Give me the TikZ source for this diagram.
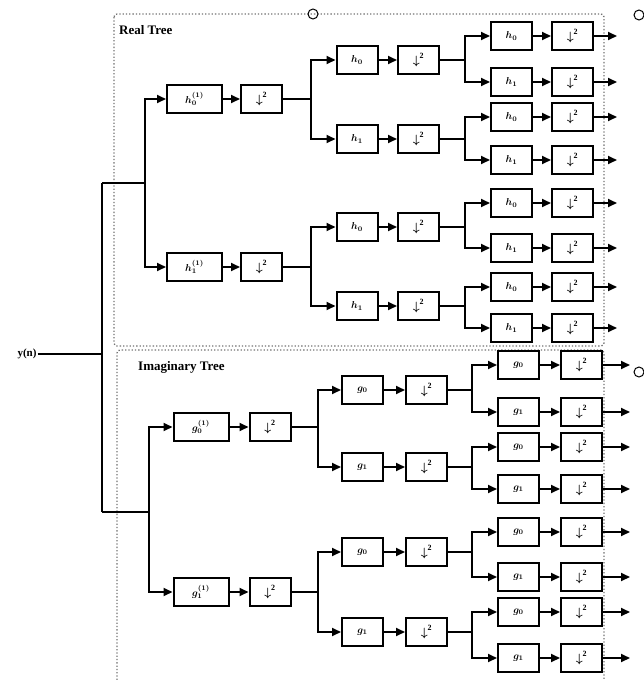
\documentclass[tikz,border=0pt]{standalone}
\usepackage{amsmath}
\usepackage{fontspec}
\setmainfont{Liberation Serif}
\usetikzlibrary{arrows.meta}
\newcommand\dsl{$\boldsymbol{\downarrow}^{\mathbf 2}$}
\begin{document}
\begin{tikzpicture}[x=1pt,y=-1pt,
  blk/.style={draw,line width=2pt,minimum height=28pt,minimum width=41pt,inner sep=0pt,font=\normalsize},
  wblk/.style={blk,minimum width=55pt},
  dblk/.style={blk,font=\large},
  wire/.style={line width=1.8pt},
  arr/.style={wire,-{Triangle[length=9pt,width=8pt]}},
  frame/.style={draw=black!55,dotted,line width=1.3pt,rounded corners=3pt},
  port/.style={circle,draw,line width=1pt,minimum size=10pt,inner sep=0pt},
  title/.style={font=\fontsize{13}{15}\selectfont\bfseries,anchor=west,inner sep=0pt}]
\useasboundingbox (0,0) rectangle (643,680);

% frames
\draw[frame] (114,14) rectangle (604,346);
\draw[frame] (117,680) -- (117,350) -- (604,350) -- (604,680);
\node[title] (rt) at (119,30) {Real Tree};
\node[title] (it) at (138,367) {Imaginary Tree};
\node[port] (p1) at (313,14) {};
\node[port] (p2) at (639,15) {};
\node[port] (p3) at (639,372) {};

% input and trunk
\node[font=\fontsize{11}{13}\selectfont\bfseries,inner sep=1pt] (yn) at (27,354) {y(n)};
\coordinate (tj) at (102,354);
\coordinate (ttop) at (102,183);
\coordinate (tbot) at (102,512);
\coordinate (rv) at (145,183);
\coordinate (iv) at (149,512);
\draw[wire] (yn) -- (tj);
\draw[wire] (ttop) -- (tbot);
\draw[wire] (ttop) -- (rv);
\draw[wire] (tbot) -- (iv);

% ===== Real tree =====
\foreach \n/\y/\l in {r0/99/{h_0^{(1)}}, r1/267/{h_1^{(1)}}}{
  \node[wblk] (\n-f) at (194.5,\y) {$\boldsymbol{\l}$};
  \node[dblk] (\n-d) at (261.5,\y) {\dsl};
  \coordinate (\n-s) at (311,\y);
  \draw[arr] (rv) |- (\n-f.west);
  \draw[arr] (\n-f) -- (\n-d);
  \draw[wire] (\n-d) -- (\n-s);
}
\foreach \n/\y/\p/\i in {r00/60/r0/0, r01/139/r0/1, r10/227/r1/0, r11/306/r1/1}{
  \node[blk] (\n-f) at (357,\y) {$\boldsymbol{h_\i}$};
  \node[dblk] (\n-d) at (418.5,\y) {\dsl};
  \coordinate (\n-s) at (465,\y);
  \draw[arr] (\p-s) |- (\n-f.west);
  \draw[arr] (\n-f) -- (\n-d);
  \draw[wire] (\n-d) -- (\n-s);
}
\foreach \n/\y/\p/\i in {r000/36/r00/0, r001/82/r00/1, r010/117/r01/0, r011/160/r01/1,
                         r100/203/r10/0, r101/248/r10/1, r110/287/r11/0, r111/328/r11/1}{
  \node[blk] (\n-f) at (511.5,\y) {$\boldsymbol{h_\i}$};
  \node[dblk] (\n-d) at (572.5,\y) {\dsl};
  \coordinate (\n-o) at (617,\y);
  \draw[arr] (\p-s) |- (\n-f.west);
  \draw[arr] (\n-f) -- (\n-d);
  \draw[arr] (\n-d) -- (\n-o);
}

% ===== Imaginary tree =====
\foreach \n/\y/\l in {i0/427/{g_0^{(1)}}, i1/592/{g_1^{(1)}}}{
  \node[wblk] (\n-f) at (201,\y) {$\boldsymbol{\l}$};
  \node[dblk] (\n-d) at (270,\y) {\dsl};
  \coordinate (\n-s) at (318,\y);
  \draw[arr] (iv) |- (\n-f.west);
  \draw[arr] (\n-f) -- (\n-d);
  \draw[wire] (\n-d) -- (\n-s);
}
\foreach \n/\y/\p/\i in {i00/390/i0/0, i01/467/i0/1, i10/552/i1/0, i11/632/i1/1}{
  \node[blk] (\n-f) at (362.5,\y) {$\boldsymbol{g_\i}$};
  \node[dblk] (\n-d) at (426.5,\y) {\dsl};
  \coordinate (\n-s) at (472,\y);
  \draw[arr] (\p-s) |- (\n-f.west);
  \draw[arr] (\n-f) -- (\n-d);
  \draw[wire] (\n-d) -- (\n-s);
}
\foreach \n/\y/\p/\i in {i000/365/i00/0, i001/412/i00/1, i010/447/i01/0, i011/489/i01/1,
                         i100/532/i10/0, i101/577/i10/1, i110/612/i11/0, i111/658/i11/1}{
  \node[blk] (\n-f) at (518.5,\y) {$\boldsymbol{g_\i}$};
  \node[dblk] (\n-d) at (581.5,\y) {\dsl};
  \coordinate (\n-o) at (630,\y);
  \draw[arr] (\p-s) |- (\n-f.west);
  \draw[arr] (\n-f) -- (\n-d);
  \draw[arr] (\n-d) -- (\n-o);
}
\end{tikzpicture}
\end{document}
